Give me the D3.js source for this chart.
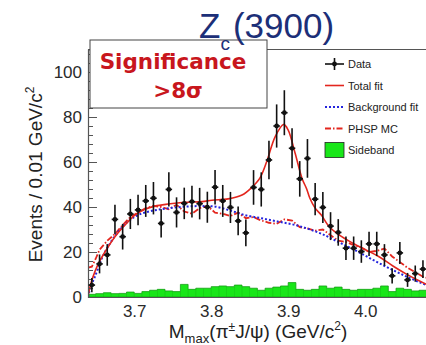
<!DOCTYPE html>
<html>
<head>
<meta charset="utf-8">
<script src="https://cdn.jsdelivr.net/npm/d3@7"></script>
<style>
  html, body { margin: 0; padding: 0; background: #fff; }
  svg { display: block; }
</style>
</head>
<body>
<svg id="chart" width="426" height="345" font-family="'Liberation Sans', Arial, sans-serif"></svg>
<script>
// Bin width 0.01 GeV/c^2, first bin starts at 3.64
const binStart = 3.64;
const binWidth = 0.01;

// Data: events per bin
const dataCounts = [5.3, 14.7, 18.7, 34.5, 26.8, 36.9, 38.7, 42.7, 43.9, 32.7,
  47.8, 37.6, 41.6, 42.4, 41.5, 39.9, 48.8, 42.7, 39.8, 33.8,
  28.5, 48.7, 47.8, 60.9, 76.0, 81.9, 66.1, 52.5, 61.6, 43.5,
  39.8, 31.5, 28.7, 21.7, 21.7, 20.2, 23.6, 23.6, 18.7, 9.4,
  19.6, 7.6, 10.4, 12.4];
// Statistical errors of the data points
const dataErrors = [3.2, 4.2, 4.8, 6.5, 5.7, 6.7, 6.8, 7.1, 7.2, 6.3,
  7.6, 6.7, 7.0, 7.1, 7.0, 6.9, 7.7, 7.1, 6.9, 6.4,
  5.9, 7.7, 7.6, 8.6, 9.6, 10.0, 8.9, 7.9, 8.6, 7.2,
  6.9, 6.2, 5.9, 5.2, 5.2, 5.0, 5.4, 5.4, 4.8, 3.4,
  4.9, 3.1, 3.6, 3.9];
// Sideband events per bin
const sidebandCounts = [1.2, 1.5, 1.9, 1.5, 1.6, 2.2, 1.6, 2.4, 3.0, 3.4,
  2.7, 2.4, 5.6, 3.4, 3.9, 3.9, 4.6, 4.9, 4.6, 5.3,
  4.6, 3.9, 3.0, 3.9, 4.4, 4.9, 6.4, 3.4, 3.0, 3.4,
  4.9, 3.9, 4.4, 3.4, 3.0, 3.4, 3.4, 3.9, 4.9, 2.4,
  3.9, 3.4, 2.7, 3.0];

// Total fit curve: mass (GeV/c^2), events
const totalFitMass = [3.640, 3.643, 3.646, 3.653, 3.662, 3.675, 3.688, 3.701, 3.714, 3.727,
  3.744, 3.766, 3.788, 3.801, 3.822, 3.840, 3.853, 3.863, 3.872, 3.883,
  3.894, 3.900, 3.909, 3.918, 3.924, 3.928, 3.935, 3.943, 3.953, 3.966,
  3.984, 4.001, 4.018, 4.036, 4.053, 4.070, 4.080];
const totalFitEvents = [0.5, 5.0, 8.5, 14.5, 20.0, 26.8, 32.0, 36.4, 39.0, 40.4,
  41.3, 42.1, 42.4, 43.0, 43.6, 45.3, 48.8, 52.7, 60.1, 71.2,
  76.7, 74.2, 63.9, 52.7, 48.0, 44.0, 39.5, 36.4, 31.3, 27.6,
  23.9, 20.9, 17.9, 13.8, 10.3, 7.2, 5.6];

// Background fit curve
const bkgFitMass = [3.640, 3.643, 3.649, 3.657, 3.670, 3.683, 3.701, 3.718, 3.735, 3.757,
  3.783, 3.801, 3.822, 3.844, 3.865, 3.887, 3.909, 3.930, 3.944, 3.966,
  3.988, 4.010, 4.031, 4.053, 4.074, 4.080];
const bkgFitEvents = [0.0, 4.0, 9.0, 16.4, 24.6, 30.5, 35.7, 37.9, 39.0, 39.9,
  40.4, 40.3, 38.7, 36.4, 35.0, 33.5, 32.0, 29.8, 28.0, 24.3,
  20.6, 16.5, 12.8, 9.2, 6.1, 5.3];

// Phase-space MC shape
const phspMass = [3.640, 3.645, 3.650, 3.655, 3.665, 3.675, 3.685, 3.695, 3.705, 3.715,
  3.725, 3.735, 3.745, 3.755, 3.765, 3.775, 3.785, 3.795, 3.805, 3.815,
  3.825, 3.835, 3.845, 3.855, 3.865, 3.875, 3.885, 3.895, 3.905, 3.915,
  3.925, 3.935, 3.945, 3.955, 3.965, 3.975, 3.985, 3.995, 4.005, 4.015,
  4.025, 4.035, 4.045, 4.055, 4.065, 4.075, 4.080];
const phspEvents = [13.0, 13.5, 17.0, 21.0, 25.0, 28.0, 32.0, 35.5, 37.5, 39.5,
  40.5, 40.0, 39.0, 41.0, 38.0, 37.0, 39.5, 40.5, 37.5, 37.0,
  36.0, 37.5, 35.0, 35.5, 34.0, 33.0, 32.5, 34.5, 34.0, 31.0,
  30.5, 29.5, 30.0, 27.5, 25.0, 24.5, 23.0, 22.0, 20.0, 20.5,
  21.5, 18.0, 15.5, 13.0, 11.0, 9.0, 8.5];

// Axis ticks
const xTickValues = [3.7, 3.8, 3.9, 4.0];
const yTickValues = [0, 20, 40, 60, 80, 100];
const yMinorTickValues = d3.range(0, 110.1, 4);

// Legend
const legendLabels = ["Data", "Total fit", "Background fit", "PHSP MC", "Sideband"];

const RED = "#e3261e";
const BLUE = "#2424dd";
const GREEN = "#19e619";
const GREEN_EDGE = "#14a014";
const AXIS = "#555";

const svg = d3.select("#chart");

const x = d3.scaleLinear().domain([3.64, 4.08]).range([88, 426.8]);
const y = d3.scaleLinear().domain([0, 110]).range([297, 49.5]);

const [xl, xr] = x.range();
const [yb, yt] = y.range();

svg.append("defs").append("clipPath").attr("id", "plotClip")
  .append("rect").attr("x", xl).attr("y", yt).attr("width", xr - xl).attr("height", yb - yt);

// Frame (top edge; left and bottom come from the axes)
svg.append("line").attr("x1", xl).attr("x2", 430).attr("y1", yt).attr("y2", yt)
  .attr("stroke", AXIS).attr("stroke-width", 1);

// Sideband histogram
const sbPath = d3.path();
sbPath.moveTo(x(binStart), y(0));
sidebandCounts.forEach((v, i) => {
  const x0 = x(binStart + i * binWidth), x1 = x(binStart + (i + 1) * binWidth);
  sbPath.lineTo(x0, y(v));
  sbPath.lineTo(x1, y(v));
});
sbPath.lineTo(x(binStart + sidebandCounts.length * binWidth), y(0));
sbPath.closePath();
const plot = svg.append("g").attr("clip-path", "url(#plotClip)");
plot.append("path").attr("d", sbPath.toString())
  .attr("fill", GREEN).attr("stroke", GREEN_EDGE).attr("stroke-width", 0.8);
// bin separators inside the histogram
plot.append("g").selectAll("line").data(sidebandCounts.slice(1)).join("line")
  .attr("x1", (d, i) => x(binStart + (i + 1) * binWidth))
  .attr("x2", (d, i) => x(binStart + (i + 1) * binWidth))
  .attr("y1", y(0))
  .attr("y2", (d, i) => y(Math.min(d, sidebandCounts[i])))
  .attr("stroke", GREEN_EDGE).attr("stroke-width", 0.5).attr("opacity", 0.6);

// Axes
const yAxis = svg.append("g").attr("transform", `translate(${xl},0)`)
  .call(d3.axisLeft(y).tickValues(yTickValues).tickSize(-9).tickPadding(6).tickFormat(d3.format("d")));
const yMinor = svg.append("g").attr("transform", `translate(${xl},0)`)
  .call(d3.axisLeft(y).tickValues(yMinorTickValues).tickSize(-5).tickFormat(""));
const xAxis = svg.append("g").attr("transform", `translate(0,${yb})`)
  .call(d3.axisBottom(x).tickValues(xTickValues).tickSize(0).tickPadding(8).tickFormat(d3.format(".1f")));
[yAxis, yMinor, xAxis].forEach(g => {
  g.select(".domain").attr("stroke", AXIS).attr("stroke-width", 1.2);
  g.selectAll(".tick line").attr("stroke", AXIS).attr("stroke-width", 1);
  g.selectAll(".tick text").attr("font-size", 17)
    .attr("font-family", "'Liberation Sans', Arial, sans-serif").attr("fill", "#2a2a2a");
});
yMinor.select(".domain").remove();

// Curves
const line = d3.line().x(d => x(d[0])).y(d => y(d[1]));
const lineSmooth = d3.line().x(d => x(d[0])).y(d => y(d[1])).curve(d3.curveMonotoneX);

plot.append("path").datum(d3.zip(phspMass, phspEvents))
  .attr("d", line).attr("fill", "none").attr("stroke", RED)
  .attr("stroke-width", 1.8).attr("stroke-dasharray", "6,2,1.5,2");
plot.append("path").datum(d3.zip(bkgFitMass, bkgFitEvents))
  .attr("d", lineSmooth).attr("fill", "none").attr("stroke", BLUE)
  .attr("stroke-width", 2).attr("stroke-dasharray", "2,2");
plot.append("path").datum(d3.zip(totalFitMass, totalFitEvents))
  .attr("d", d3.line().x(d => x(d[0])).y(d => y(d[1])).curve(d3.curveCatmullRom.alpha(0.5)))
  .attr("fill", "none").attr("stroke", RED).attr("stroke-width", 1.6);

// Data points with error bars
const pts = svg.append("g").selectAll("g").data(dataCounts).join("g");
pts.append("line")
  .attr("x1", (d, i) => x(binStart + (i + 0.5) * binWidth))
  .attr("x2", (d, i) => x(binStart + (i + 0.5) * binWidth))
  .attr("y1", (d, i) => y(d - dataErrors[i]))
  .attr("y2", (d, i) => y(d + dataErrors[i]))
  .attr("stroke", "#111").attr("stroke-width", 1.6);
pts.append("line")
  .attr("x1", (d, i) => x(binStart + i * binWidth) + 0.6)
  .attr("x2", (d, i) => x(binStart + (i + 1) * binWidth) - 0.6)
  .attr("y1", d => y(d)).attr("y2", d => y(d))
  .attr("stroke", "#111").attr("stroke-width", 1.6);
pts.append("circle")
  .attr("cx", (d, i) => x(binStart + (i + 0.5) * binWidth))
  .attr("cy", d => y(d)).attr("r", 2.4).attr("fill", "#111");

// Significance box
svg.append("rect").attr("x", 90).attr("y", 40).attr("width", 177).attr("height", 68)
  .attr("fill", "#fff").attr("stroke", "#444").attr("stroke-width", 1);
const sig = svg.append("text").attr("text-anchor", "middle")
  .attr("font-family", "'DejaVu Sans', sans-serif").attr("font-weight", "bold")
  .attr("font-size", 21.5).attr("fill", "#c8161d");
sig.append("tspan").attr("x", 173).attr("y", 69).text("Significance");
sig.append("tspan").attr("x", 178).attr("y", 98).text(">8σ");

// Legend
const legendY = [64, 85.5, 107, 128.5, 150];
const leg = svg.append("g");
legendLabels.forEach((lab, i) => {
  const cy = legendY[i];
  if (i === 0) {
    leg.append("line").attr("x1", 325).attr("x2", 344).attr("y1", cy).attr("y2", cy)
      .attr("stroke", "#111").attr("stroke-width", 1.6);
    leg.append("line").attr("x1", 334.5).attr("x2", 334.5).attr("y1", cy - 6).attr("y2", cy + 6)
      .attr("stroke", "#111").attr("stroke-width", 1.6);
    leg.append("circle").attr("cx", 334.5).attr("cy", cy).attr("r", 2.4).attr("fill", "#111");
  } else if (i === 1) {
    leg.append("line").attr("x1", 325).attr("x2", 344).attr("y1", cy).attr("y2", cy)
      .attr("stroke", RED).attr("stroke-width", 1.6);
  } else if (i === 2) {
    leg.append("line").attr("x1", 325).attr("x2", 344).attr("y1", cy).attr("y2", cy)
      .attr("stroke", BLUE).attr("stroke-width", 2).attr("stroke-dasharray", "2,2");
  } else if (i === 3) {
    leg.append("line").attr("x1", 325).attr("x2", 344).attr("y1", cy).attr("y2", cy)
      .attr("stroke", RED).attr("stroke-width", 1.8).attr("stroke-dasharray", "6,2,1.5,2");
  } else {
    leg.append("rect").attr("x", 325).attr("y", cy - 7.5).attr("width", 19).attr("height", 15)
      .attr("fill", GREEN).attr("stroke", "#222").attr("stroke-width", 0.8);
  }
  leg.append("text").attr("x", 348).attr("y", cy + 4).attr("font-size", 11)
    .attr("fill", "#222").text(lab);
});

// Axis titles
const xt = svg.append("text").attr("x", 258).attr("y", 338).attr("text-anchor", "middle")
  .attr("font-size", 19).attr("fill", "#222");
xt.append("tspan").text("M");
xt.append("tspan").attr("font-size", 13).attr("dy", 5).text("max");
xt.append("tspan").attr("dy", -5).text("(π");
xt.append("tspan").attr("font-size", 12).attr("dy", -7).text("±");
xt.append("tspan").attr("dy", 7).text("J/ψ) (GeV/c");
xt.append("tspan").attr("font-size", 12).attr("dy", -8).text("2");
xt.append("tspan").attr("dy", 8).text(")");

const yt2 = svg.append("text").attr("transform", "translate(42,174.5) rotate(-90)")
  .attr("text-anchor", "middle").attr("font-size", 19).attr("fill", "#222");
yt2.append("tspan").text("Events / 0.01 GeV/c");
yt2.append("tspan").attr("font-size", 12).attr("dy", -8).text("2");

// Title
const title = svg.append("text").attr("x", 199).attr("y", 38)
  .attr("font-size", 35).attr("fill", "#1c2f78");
title.append("tspan").text("Z");
title.append("tspan").attr("font-size", 19).attr("dy", 12).text("c");
title.append("tspan").attr("dy", -12).attr("dx", 3).text("(3900)");
</script>
</body>
</html>
